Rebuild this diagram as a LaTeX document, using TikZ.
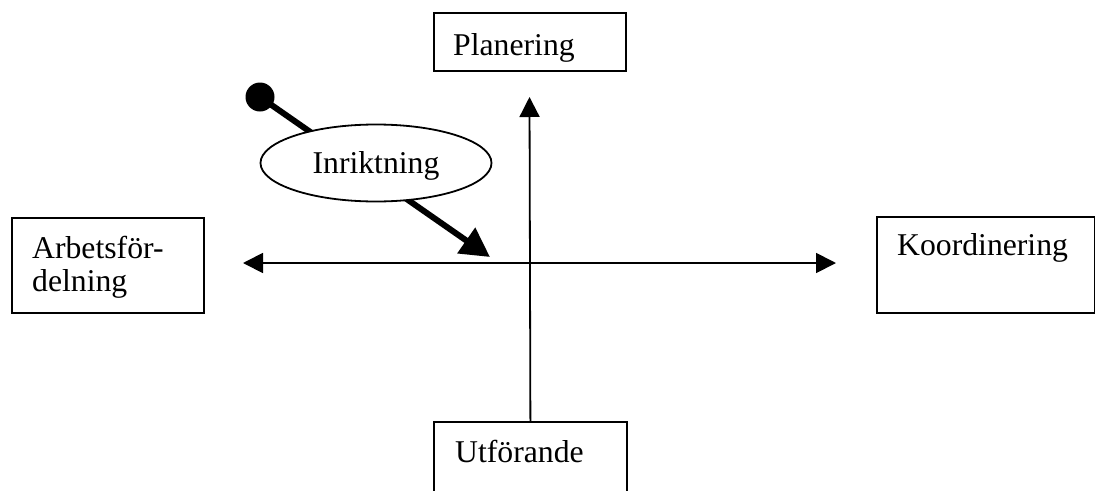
\documentclass[tikz,border=0pt]{standalone}
\usepackage{fontspec}
\setmainfont{Liberation Serif}
\usetikzlibrary{arrows.meta,shapes.geometric}
\begin{document}
\begin{tikzpicture}[x=1pt,y=-1pt,
  box/.style={draw, line width=1.8pt, rectangle, inner sep=0pt, anchor=north west},
  lbl/.style={anchor=base west, inner sep=0pt, font=\fontsize{31.7}{34}\selectfont},
  axis/.style={line width=1.8pt},
]
\useasboundingbox (0,0) rectangle (1095,490);
\clip (0,0) rectangle (1095,490);

% boxes
\node[box, minimum width=192pt, minimum height=58pt] (plan) at (433,12) {};
\node[box, minimum width=192pt, minimum height=95pt] (arb) at (11,217) {};
\node[box, minimum width=218pt, minimum height=96pt] (koord) at (876,216) {};
\node[box, minimum width=193pt, minimum height=80pt] (utf) at (433,421) {};

% labels
\node[lbl] (plantxt) at (453,55) {Planering};
\node[lbl] (arbtxt1) at (32,258) {Arbetsför-};
\node[lbl] (arbtxt2) at (32,291) {delning};
\node[lbl] (koordtxt) at (897,255) {Koordinering};
\node[lbl] (utftxt) at (455,462) {Utförande};

% axes
\coordinate (vtop) at (529.5,97);
\coordinate (hl) at (243,263);
\coordinate (hr) at (836,263);
\draw[axis, -{Triangle[length=20pt,width=20pt]}] (utf.north) -- (vtop);
\draw[axis, {Triangle[length=20pt,width=20pt]}-{Triangle[length=20pt,width=20pt]}] (hl) -- (hr);

% Inriktning arrow
\node[circle, fill=black, minimum size=29pt, inner sep=0pt] (dot) at (260,97) {};
\coordinate (tip) at (490,257);
\draw[line width=6pt, -{Triangle[length=29pt,width=30pt]}] (dot.center) -- (tip);
\node[ellipse, draw, line width=1.8pt, fill=white, minimum width=231pt, minimum height=77pt, inner sep=0pt,
      text height=22pt, text depth=2pt,
      font=\fontsize{31.7}{34}\selectfont] (inr) at (376,163) {Inriktning};
\end{tikzpicture}
\end{document}
